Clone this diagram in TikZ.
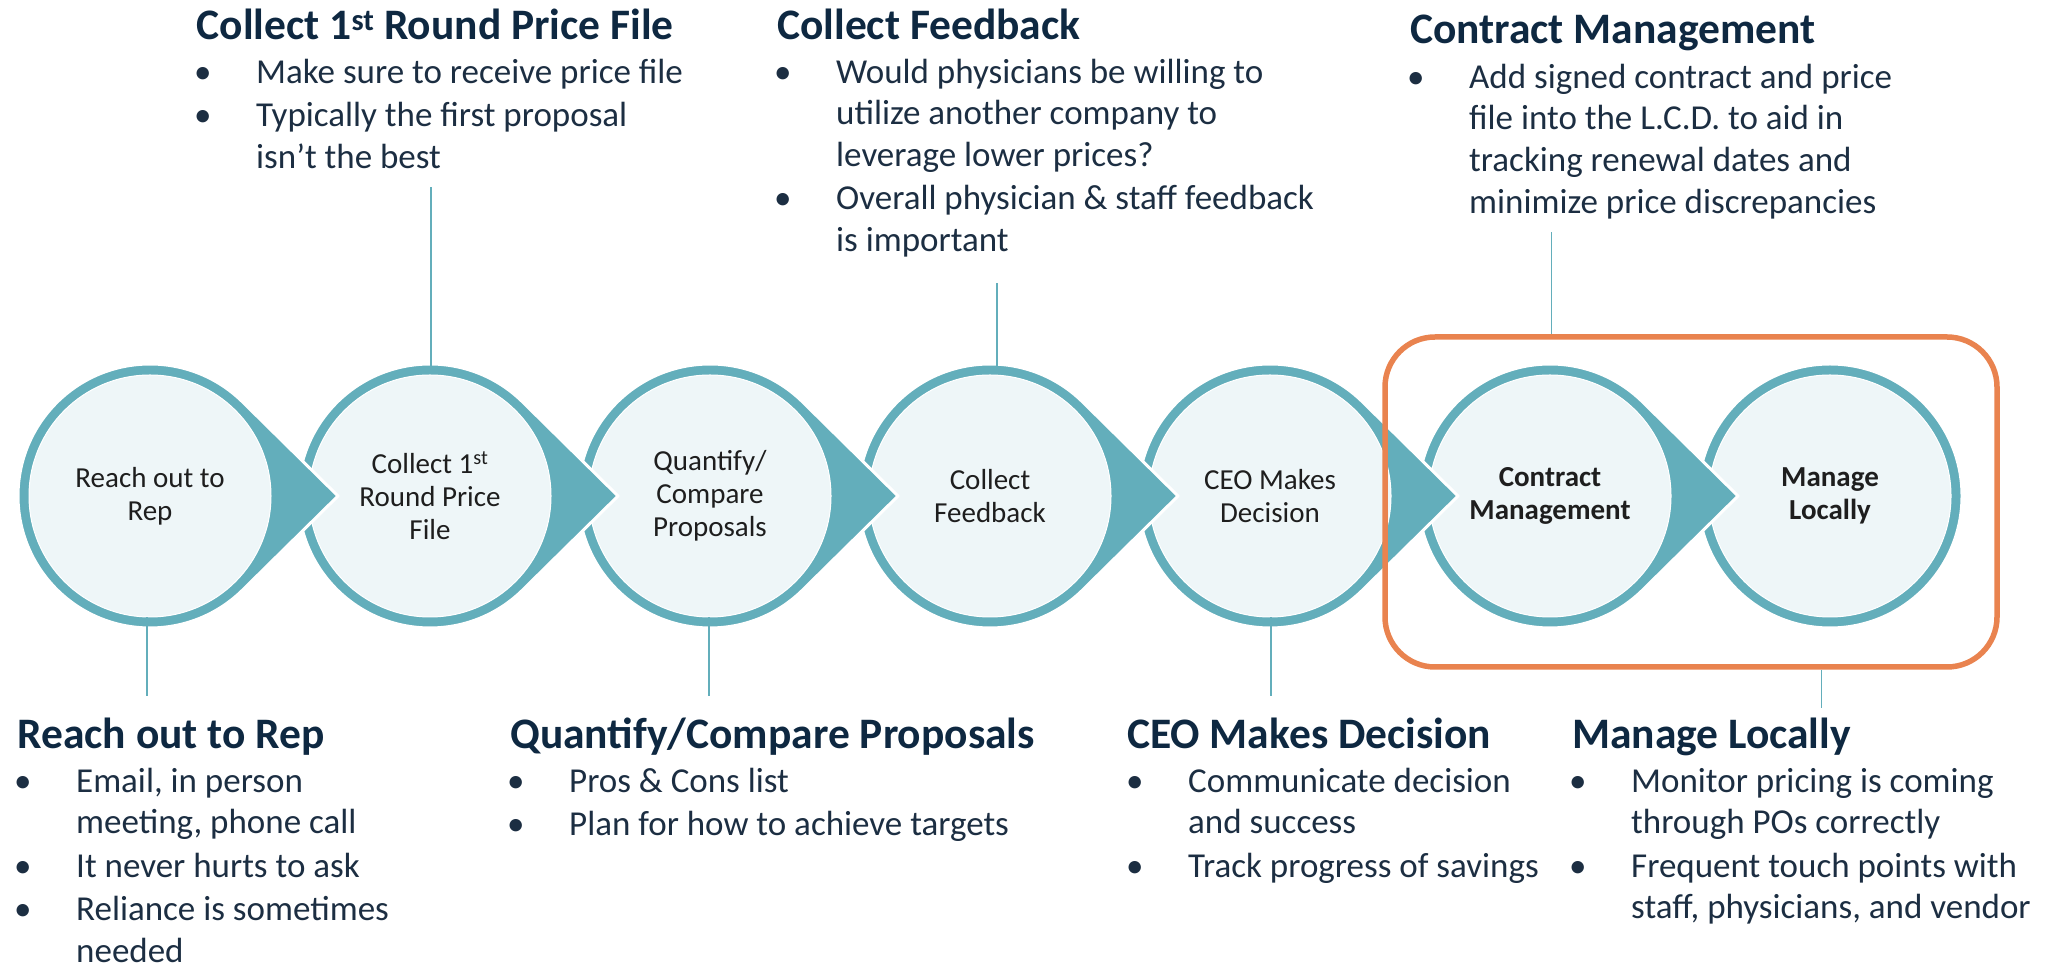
\documentclass[tikz,border=0pt]{standalone}
\usepackage{fontspec}
\setmainfont{Carlito}
\definecolor{ringteal}{HTML}{63AEBB}
\definecolor{innerfill}{HTML}{EEF6F8}
\definecolor{boxorange}{HTML}{E9834F}
\definecolor{headnavy}{HTML}{0E2841}
\definecolor{bodynavy}{HTML}{1C2E42}
\definecolor{steptext}{HTML}{1E1E1E}
% hanging bullet and its continuation indent
\newcommand\itm{\makebox[62pt][l]{\textbullet}}
\newcommand\cont{\hspace*{62pt}}
% note body: rows hang from the baseline of the first row
\newenvironment{notelines}{\begin{tabular}[t]{@{}l@{}}}{\end{tabular}}
% teal ring with a chevron tip pointing right, centre x = #1
\newcommand\stepdrop[1]{%
  \path[ring] (#1,470) ++(45.4:132) arc[start angle=45.4,end angle=314.6,radius=132]
    -- (#1+188,470) -- cycle;}
\begin{document}
\begin{tikzpicture}[x=1pt,y=1pt,
  stepdisk/.style={circle, minimum size=242pt, inner sep=0pt, fill=innerfill,
    draw=white, line width=1pt, align=center, text=steptext,
    font=\fontsize{29}{33}\selectfont},
  boldstep/.style={stepdisk, font=\fontsize{29}{33}\selectfont\bfseries},
  ring/.style={fill=ringteal, draw=white, line width=3pt, line join=round},
  link/.style={draw=ringteal, line width=1.6pt},
  head/.style={anchor=base west, inner sep=0pt, text=headnavy,
    font=\fontsize{43.5}{50}\selectfont\bfseries},
  body/.style={anchor=base west, inner sep=0pt, text=bodynavy,
    font=\fontsize{35}{41.7}\selectfont},
  focusbox/.style={draw=boxorange, line width=5.5pt, rounded corners=50pt,
    minimum width=612pt, minimum height=330pt, inner sep=0pt},
]
\useasboundingbox (0,0) rectangle (2048,966);

% process steps, drawn right to left so each tip lies over the next disk
\path[ring] (1830,470) circle[radius=132];
\node[boldstep] (c7) at (1830,470) {Manage\\Locally};
\stepdrop{1550}
\node[boldstep] (c6) at (1550,470) {Contract\\Management};
\stepdrop{1270}
\node[stepdisk] (c5) at (1270,470) {CEO Makes\\Decision};
\stepdrop{990}
\node[stepdisk] (c4) at (990,470) {Collect\\Feedback};
\stepdrop{710}
\node[stepdisk] (c3) at (710,470) {Quantify/\\Compare\\Proposals};
\stepdrop{430}
\node[stepdisk] (c2) at (430,470) {Collect 1\textsuperscript{st}\\Round Price\\File};
\stepdrop{150}
\node[stepdisk] (c1) at (150,470) {Reach out to\\Rep};

% highlighted final phase
\node[focusbox] (focus) at (1691,464) {};

% leader lines to the notes
\coordinate (l1) at (147,270);
\coordinate (l2) at (431,779.3);
\coordinate (l3) at (709,270);
\coordinate (l4) at (997,683.3);
\coordinate (l5) at (1271,270);
\coordinate (l6) at (1551.5,734.3);
\coordinate (l7) at (1821.5,258);
\draw[link] (l1 |- c1.south) -- (l1);
\draw[link] (l2 |- c2.north) -- (l2);
\draw[link] (l3 |- c3.south) -- (l3);
\draw[link] (l4 |- c4.north) -- (l4);
\draw[link] (l5 |- c5.south) -- (l5);
\draw[link] (l6 |- focus.north) -- (l6);
\draw[link] (l7 |- focus.south) -- (l7);

% notes above
\node[head] (h2) at (196.5,926) {Collect 1\textsuperscript{st} Round Price File};
\node[body] (b2) at (194,882.7) {\begin{notelines}
  \itm Make sure to receive price file\\[1.5pt]
  \itm Typically the first proposal\\
  \cont isn't the best\end{notelines}};
\node[head] (h4) at (777,926) {Collect Feedback};
\node[body] (b4) at (774,882.7) {\begin{notelines}
  \itm Would physicians be willing to\\
  \cont utilize another company to\\
  \cont leverage lower prices?\\[1.5pt]
  \itm Overall physician \& staff feedback\\
  \cont is important\end{notelines}};
\node[head] (h6) at (1410,922.7) {Contract Management};
\node[body] (b6) at (1407,877.7) {\begin{notelines}
  \itm Add signed contract and price\\
  \cont file into the L.C.D. to aid in\\
  \cont tracking renewal dates and\\
  \cont minimize price discrepancies\end{notelines}};

% notes below
\node[head] (h1) at (17.3,217.7) {Reach out to Rep};
\node[body] (b1) at (14,173.7) {\begin{notelines}
  \itm Email, in person\\
  \cont meeting, phone call\\[1.5pt]
  \itm It never hurts to ask\\[1.5pt]
  \itm Reliance is sometimes\\
  \cont needed\end{notelines}};
\node[head] (h3) at (510,217.7) {Quantify/Compare Proposals};
\node[body] (b3) at (507,173.7) {\begin{notelines}
  \itm Pros \& Cons list\\[1.5pt]
  \itm Plan for how to achieve targets\end{notelines}};
\node[head] (h5) at (1127,217.7) {CEO Makes Decision};
\node[body] (b5) at (1126,173.7) {\begin{notelines}
  \itm Communicate decision\\
  \cont and success\\[1.5pt]
  \itm Track progress of savings\end{notelines}};
\node[head] (h7) at (1572,217.7) {Manage Locally};
\node[body] (b7) at (1569,173.7) {\begin{notelines}
  \itm Monitor pricing is coming\\
  \cont through POs correctly\\[1.5pt]
  \itm Frequent touch points with\\
  \cont staff, physicians, and vendor\end{notelines}};
\end{tikzpicture}
\end{document}
